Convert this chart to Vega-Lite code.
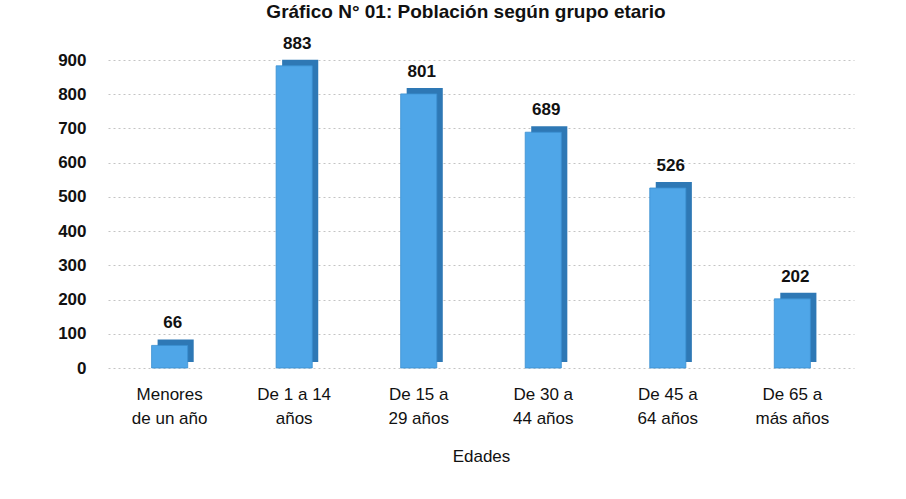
{
  "$schema": "https://vega.github.io/schema/vega-lite/v6.json",
  "width": 746,
  "height": 308,
  "autosize": "none",
  "padding": {"left": 108, "top": 60, "right": 52, "bottom": 131},
  "background": "white",
  "view": {"stroke": null},
  "title": {
    "text": "Gráfico N° 01: Población según grupo etario",
    "font": "Liberation Sans",
    "fontSize": 19,
    "fontWeight": "bold",
    "color": "#111",
    "anchor": "middle",
    "baseline": "top",
    "offset": 0,
    "dy": -13,
    "dx": -15
  },
  "data": {
    "values": [
      {"grupo": "Menores|de un año", "valor": 66},
      {"grupo": "De 1 a 14|años", "valor": 883},
      {"grupo": "De 15 a|29 años", "valor": 801},
      {"grupo": "De 30 a|44 años", "valor": 689},
      {"grupo": "De 45 a|64 años", "valor": 526},
      {"grupo": "De 65 a|más años", "valor": 202}
    ]
  },
  "encoding": {
    "x": {
      "field": "grupo",
      "type": "nominal",
      "sort": null,
      "scale": {"paddingInner": 0.71, "paddingOuter": 0.35},
      "axis": {
        "title": "Edades",
        "titleFont": "Liberation Sans",
        "titleFontSize": 17,
        "titleFontWeight": "normal",
        "titleColor": "#111",
        "titlePadding": 22,
        "labelExpr": "split(datum.label, '|')",
        "labelAngle": 0,
        "labelFont": "Liberation Sans",
        "labelFontSize": 17,
        "labelColor": "#111",
        "labelPadding": 18,
        "labelLineHeight": 24,
        "domain": false,
        "ticks": false
      }
    },
    "y": {
      "field": "valor",
      "type": "quantitative",
      "scale": {"domain": [0, 900]},
      "axis": {
        "title": null,
        "values": [0, 100, 200, 300, 400, 500, 600, 700, 800, 900],
        "labelFont": "Liberation Sans",
        "labelFontSize": 17,
        "labelFontWeight": "bold",
        "labelColor": "#111",
        "labelPadding": 22,
        "domain": false,
        "ticks": false,
        "grid": true,
        "gridColor": "#c4c4c4",
        "gridDash": [2, 3],
        "gridWidth": 1
      }
    }
  },
  "layer": [
    {
      "mark": {"type": "bar", "color": "#2e78b5", "xOffset": 6, "yOffset": -6}
    },
    {
      "mark": {"type": "bar", "color": "#4fa6e8", "stroke": "#3a8fd0", "strokeWidth": 0.8}
    },
    {
      "mark": {"type": "text", "baseline": "bottom", "dy": -13, "dx": 3, "font": "Liberation Sans", "fontSize": 17, "fontWeight": "bold", "color": "#111"},
      "encoding": {"text": {"field": "valor", "type": "quantitative"}}
    }
  ]
}
